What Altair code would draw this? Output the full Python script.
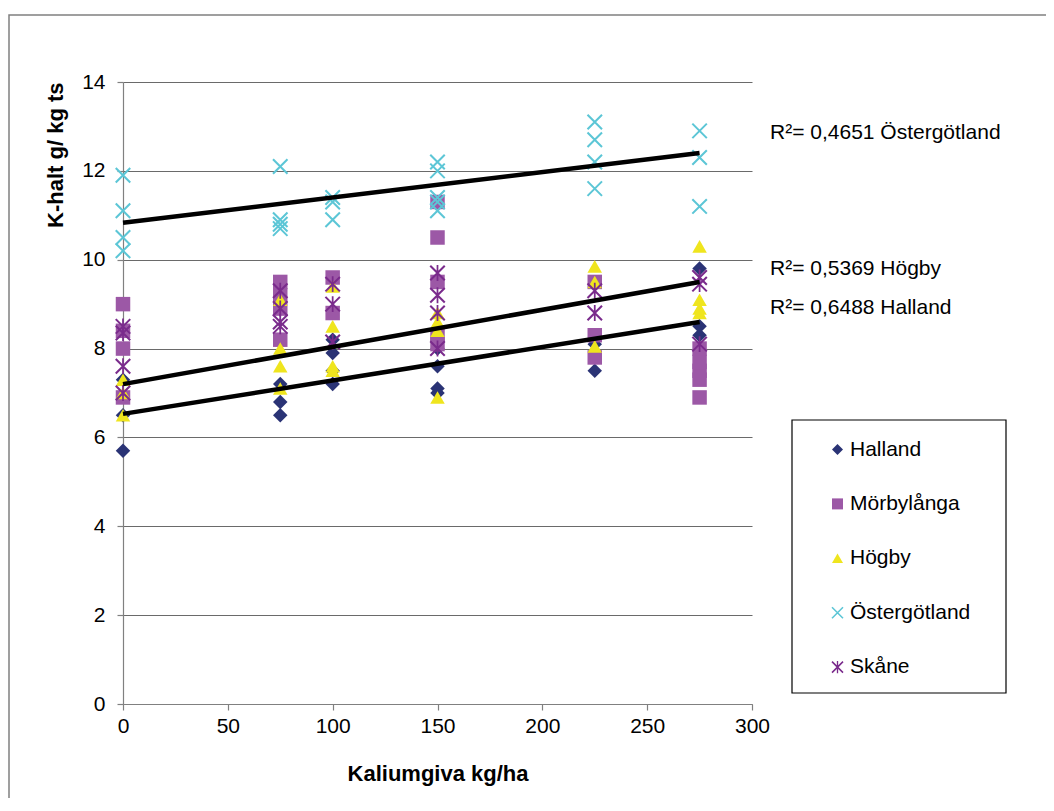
import altair as alt
import pandas as pd

series = ["Halland", "Mörbylånga", "Högby", "Östergötland", "Skåne"]
colors = ["#2A3375", "#9C58A6", "#EFE51E", "#5CC6D6", "#7A2B8C"]

halland_x = [0, 0, 0, 75, 75, 75, 100, 100, 100, 100, 150, 150, 150, 150, 225, 225, 275, 275, 275]
halland_y = [5.7, 6.5, 7.3, 6.5, 6.8, 7.2, 7.2, 7.5, 7.9, 8.2, 7.0, 7.1, 7.6, 8.0, 7.5, 8.1, 8.3, 8.5, 9.8]

morbylanga_x = [0, 0, 0, 0, 75, 75, 75, 75, 100, 100, 150, 150, 150, 150, 150, 225, 225, 225, 275, 275, 275, 275, 275]
morbylanga_y = [6.9, 8.0, 8.4, 9.0, 8.2, 8.9, 9.2, 9.5, 8.8, 9.6, 8.1, 8.3, 9.5, 10.5, 11.3, 7.8, 8.3, 9.5, 6.9, 7.3, 7.5, 7.7, 8.0]

hogby_x = [0, 0, 0, 75, 75, 75, 75, 100, 100, 100, 100, 150, 150, 150, 150, 225, 225, 225, 275, 275, 275, 275]
hogby_y = [6.5, 7.0, 7.3, 7.1, 7.6, 8.0, 9.1, 7.5, 7.6, 8.5, 9.4, 6.9, 8.4, 8.6, 8.8, 8.05, 9.5, 9.85, 8.8, 8.9, 9.1, 10.3]

ostergotland_x = [0, 0, 0, 0, 75, 75, 75, 75, 100, 100, 100, 150, 150, 150, 150, 150, 225, 225, 225, 225, 275, 275, 275]
ostergotland_y = [10.2, 10.5, 11.1, 11.9, 10.7, 10.8, 10.9, 12.1, 10.9, 11.3, 11.4, 11.1, 11.3, 11.4, 12.0, 12.2, 11.6, 12.2, 12.7, 13.1, 11.2, 12.3, 12.9]

skane_x = [0, 0, 0, 0, 75, 75, 75, 75, 100, 100, 100, 150, 150, 150, 150, 225, 225, 275, 275, 275]
skane_y = [7.0, 7.6, 8.35, 8.5, 8.5, 8.6, 8.9, 9.3, 8.15, 9.0, 9.45, 8.0, 8.8, 9.2, 9.7, 8.8, 9.3, 8.1, 9.45, 9.6]

trend_names = ["Östergötland", "Högby", "Halland"]
trend_x = [0, 275]
trend_start = [10.83, 7.2, 6.53]
trend_end = [12.4, 9.5, 8.6]

r2_labels = ["R²= 0,4651 Östergötland", "R²= 0,5369 Högby", "R²= 0,6488 Halland"]

x_ticks = [0, 50, 100, 150, 200, 250, 300]
y_ticks = [0, 2, 4, 6, 8, 10, 12, 14]

# ---- build tables ----
rows = []
for name, xs, ys in [
    ("Halland", halland_x, halland_y),
    ("Mörbylånga", morbylanga_x, morbylanga_y),
    ("Högby", hogby_x, hogby_y),
    ("Östergötland", ostergotland_x, ostergotland_y),
    ("Skåne", skane_x, skane_y),
]:
    for xv, yv in zip(xs, ys):
        rows.append({"series": name, "giva": xv, "khalt": yv})
points_df = pd.DataFrame(rows)
points_df["order"] = range(len(points_df))

trend_rows = []
for name, y0, y1 in zip(trend_names, trend_start, trend_end):
    trend_rows.append({"trend": name, "giva": trend_x[0], "khalt": y0})
    trend_rows.append({"trend": name, "giva": trend_x[1], "khalt": y1})
trend_df = pd.DataFrame(trend_rows)

FONT = "Liberation Sans"
LABEL_FS = 21
TITLE_FS = 22

x_path = ("M -0.9,-1.1 L 1.1,0.9 L 0.9,1.1 L -1.1,-0.9 Z "
          "M -1.1,0.9 L 0.9,-1.1 L 1.1,-0.9 L -0.9,1.1 Z")
ast_path = x_path + " M -0.12,-1.1 L 0.12,-1.1 L 0.12,1.1 L -0.12,1.1 Z"
shapes = ["diamond", "square", "triangle-up", x_path, ast_path]

W, H = 629, 622

x_enc = alt.X("giva:Q",
              scale=alt.Scale(domain=[0, 300], nice=False, zero=True),
              axis=alt.Axis(values=x_ticks, title="Kaliumgiva kg/ha", grid=False,
                            labelFlush=False,
                            tickSize=6, labelPadding=5, titleY=69, titleBaseline="middle"))
y_enc = alt.Y("khalt:Q",
              scale=alt.Scale(domain=[0, 14], nice=False, zero=True),
              axis=alt.Axis(values=y_ticks, title="K-halt g/ kg ts", grid=True,
                            labelFlush=False,
                            tickSize=6, labelPadding=12, titleX=-68, titleY=0,
                            titleAngle=270, titleAlign="right", titleBaseline="middle"))

points = alt.Chart(points_df).mark_point(filled=True, opacity=1, strokeWidth=0, size=210).encode(
    x=x_enc,
    y=y_enc,
    color=alt.Color("series:N", scale=alt.Scale(domain=series, range=colors),
                    legend=alt.Legend(orient="none", legendX=704, legendY=357, title=None,
                                      labelFontSize=LABEL_FS, labelFont=FONT, labelColor="black",
                                      symbolSize=121, rowPadding=32.4, padding=0,
                                      labelOffset=2, symbolStrokeWidth=0)),
    shape=alt.Shape("series:N", scale=alt.Scale(domain=series, range=shapes)),
    order=alt.Order("order:Q"),
)

lines = alt.Chart(trend_df).mark_line(color="black", strokeWidth=4.5).encode(
    x="giva:Q", y="khalt:Q", detail="trend:N")

one = pd.DataFrame({"k": [0]})
outer = alt.Chart(one).mark_rect(fill="transparent", stroke="#808080", strokeWidth=1.5).encode(
    x=alt.value(-114), x2=alt.value(960), y=alt.value(-67), y2=alt.value(760))
legend_box = alt.Chart(one).mark_rect(fill="white", stroke="black", strokeWidth=1.2).encode(
    x=alt.value(669), x2=alt.value(883), y=alt.value(338), y2=alt.value(611))

r2_y = [51, 187, 226]
texts = []
for lab, yy in zip(r2_labels, r2_y):
    texts.append(alt.Chart(pd.DataFrame({"t": [lab]})).mark_text(
        align="left", baseline="middle", fontSize=LABEL_FS, font=FONT, color="black").encode(
        text="t:N", x=alt.value(647), y=alt.value(yy)))

chart = alt.layer(outer, legend_box, points, lines, *texts).properties(
    width=W, height=H,
    autosize=alt.AutoSizeParams(type="none"),
    padding={"left": 115, "top": 74, "right": 294, "bottom": 94},
    background="white",
).configure_view(stroke=None).configure_axis(
    labelFont=FONT, titleFont=FONT, labelFontSize=LABEL_FS, titleFontSize=TITLE_FS,
    labelColor="black", titleColor="black", titleFontWeight="bold",
    domainColor="#808080", tickColor="#808080", gridColor="#6a6a6a",
    domainWidth=1.2, tickWidth=1.2, gridWidth=1,
)

chart.save("out.html", embed_options={"renderer": "svg", "actions": False})
